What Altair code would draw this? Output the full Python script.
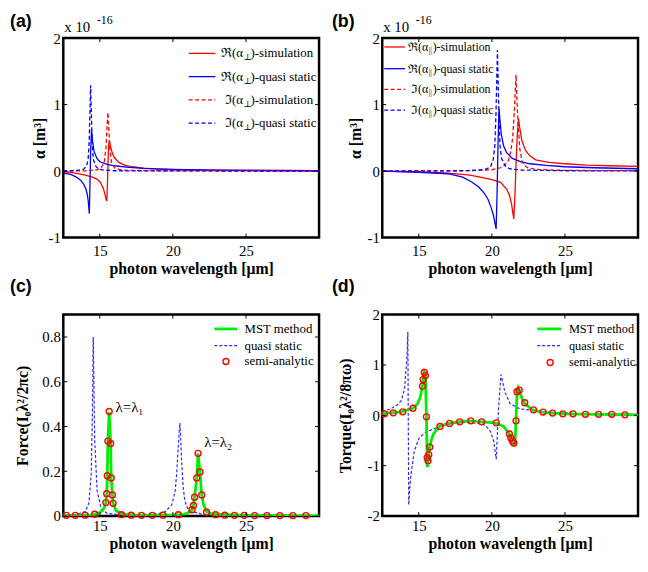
import altair as alt
import pandas as pd

SERIF = "'Liberation Serif', 'Times New Roman', Times, 'DejaVu Serif', serif"
SANS = "'Liberation Sans', Arial, Helvetica, sans-serif"
RED = "#ff0000"
BLUE = "#0000ff"
BLUE2 = "#2a2aff"
GREEN = "#00ee00"
DASH = [4, 2.5]

XDOM = [12.5, 30]
XTICKS = [15, 20, 25]

# ---------------- panel (a) : alpha_perp ----------------
a_re_sim_x = [12.5, 13.0, 13.5, 14.0, 14.5, 14.8, 15.0, 15.15, 15.25, 15.35, 15.42, 15.48, 15.52, 15.56, 15.60, 15.65, 15.72, 15.85, 16.0, 16.3, 16.7, 17.2, 18.0, 19.0, 20.0, 22.0, 25.0, 30.0]
a_re_sim_y = [-0.01, -0.02, -0.04, -0.06, -0.09, -0.12, -0.16, -0.22, -0.27, -0.35, -0.42, -0.45, -0.2, 0.12, 0.38, 0.46, 0.38, 0.27, 0.2, 0.13, 0.09, 0.065, 0.045, 0.03, 0.022, 0.015, 0.01, 0.005]
a_re_qs_x = [12.5, 13.0, 13.4, 13.7, 13.9, 14.05, 14.15, 14.22, 14.28, 14.32, 14.37, 14.43, 14.5, 14.6, 14.8, 15.0, 15.5, 16.0, 17.0, 18.0, 20.0, 23.0, 26.0, 30.0]
a_re_qs_y = [-0.03, -0.05, -0.09, -0.14, -0.2, -0.27, -0.36, -0.48, -0.64, -0.25, 0.3, 0.62, 0.45, 0.3, 0.19, 0.14, 0.1, 0.08, 0.055, 0.04, 0.025, 0.015, 0.01, 0.007]
a_im_sim_x = [12.5, 14.0, 14.8, 15.1, 15.3, 15.42, 15.5, 15.55, 15.6, 15.68, 15.8, 16.0, 16.4, 17.0, 20.0, 30.0]
a_im_sim_y = [0.0, 0.005, 0.02, 0.05, 0.13, 0.35, 0.7, 0.88, 0.7, 0.35, 0.13, 0.05, 0.02, 0.01, 0.003, 0.0]
a_im_qs_x = [12.5, 13.5, 13.9, 14.1, 14.2, 14.27, 14.33, 14.37, 14.41, 14.47, 14.55, 14.7, 14.9, 15.3, 16.0, 20.0, 30.0]
a_im_qs_y = [0.0, 0.01, 0.03, 0.08, 0.18, 0.45, 0.95, 1.29, 0.95, 0.45, 0.18, 0.08, 0.03, 0.015, 0.005, 0.002, 0.0]
a_yticks = [-1, 0, 1, 2]

# ---------------- panel (b) : alpha_parallel ----------------
b_re_sim_x = [12.5, 15.0, 17.0, 18.5, 19.2, 20.0, 20.6, 21.0, 21.2, 21.35, 21.45, 21.5, 21.58, 21.66, 21.74, 21.82, 21.9, 22.05, 22.3, 22.6, 23.0, 23.9, 25.0, 26.5, 28.0, 30.0]
b_re_sim_y = [0.0, -0.01, -0.03, -0.06, -0.09, -0.13, -0.17, -0.27, -0.36, -0.5, -0.65, -0.72, -0.35, 0.15, 0.55, 0.79, 0.66, 0.46, 0.31, 0.23, 0.17, 0.13, 0.11, 0.09, 0.08, 0.07]
b_re_qs_x = [12.5, 15.0, 17.0, 18.0, 18.6, 19.1, 19.47, 19.75, 19.95, 20.1, 20.2, 20.29, 20.36, 20.42, 20.49, 20.56, 20.65, 20.8, 21.0, 21.4, 22.0, 22.6, 23.7, 25.0, 27.0, 30.0]
b_re_qs_y = [0.0, -0.02, -0.04, -0.09, -0.16, -0.24, -0.33, -0.43, -0.55, -0.66, -0.77, -0.87, -0.3, 0.4, 0.94, 0.75, 0.55, 0.38, 0.28, 0.19, 0.14, 0.11, 0.085, 0.065, 0.05, 0.035]
b_im_sim_x = [12.5, 18.0, 20.0, 20.6, 20.9, 21.13, 21.3, 21.42, 21.55, 21.65, 21.75, 21.9, 22.05, 22.2, 22.5, 23.0, 25.0, 30.0]
b_im_sim_y = [0.0, 0.005, 0.02, 0.05, 0.09, 0.16, 0.3, 0.5, 0.95, 1.45, 0.9, 0.35, 0.16, 0.09, 0.045, 0.025, 0.01, 0.005]
b_im_qs_x = [12.5, 17.0, 19.0, 19.6, 19.9, 20.1, 20.2, 20.28, 20.38, 20.48, 20.56, 20.65, 20.9, 21.2, 22.0, 25.0, 30.0]
b_im_qs_y = [0.0, 0.003, 0.01, 0.03, 0.06, 0.18, 0.38, 0.85, 1.82, 0.85, 0.38, 0.2, 0.08, 0.035, 0.015, 0.005, 0.002]
b_yticks = [-1, 0, 1, 2]

# ---------------- panel (c) : force ----------------
c_mst_x = [12.5, 14.5, 15.0, 15.2, 15.35, 15.41, 15.47, 15.51, 15.55, 15.64, 15.74, 15.78, 15.86, 15.91, 16.1, 16.5, 17.5, 20.0, 20.7, 21.0, 21.3, 21.41, 21.48, 21.63, 21.72, 21.85, 21.97, 22.1, 22.3, 22.7, 25.0, 30.0]
c_mst_y = [0.0, 0.005, 0.015, 0.025, 0.045, 0.06, 0.1, 0.18, 0.335, 0.465, 0.324, 0.17, 0.094, 0.057, 0.025, 0.01, 0.004, 0.004, 0.008, 0.013, 0.028, 0.047, 0.084, 0.17, 0.28, 0.197, 0.094, 0.05, 0.02, 0.008, 0.003, 0.001]
c_semi_x = [12.7, 13.32, 13.99, 14.65, 15.41, 15.47, 15.51, 15.55, 15.64, 15.74, 15.78, 15.86, 15.91, 16.48, 17.15, 17.85, 18.59, 19.32, 20.37, 21.3, 21.41, 21.48, 21.63, 21.72, 21.85, 21.97, 22.3, 22.92, 23.55, 24.21, 24.88, 25.59, 26.43, 27.32, 28.21, 29.1]
c_semi_y = [0.003, 0.003, 0.004, 0.008, 0.06, 0.1, 0.18, 0.335, 0.467, 0.324, 0.17, 0.094, 0.057, 0.006, 0.004, 0.003, 0.003, 0.004, 0.006, 0.028, 0.047, 0.084, 0.17, 0.28, 0.197, 0.094, 0.017, 0.006, 0.004, 0.003, 0.003, 0.002, 0.002, 0.002, 0.002, 0.002]
c_qs_x = [12.5, 13.0, 13.5, 14.0, 14.25, 14.41, 14.49, 14.55, 14.61, 14.65, 14.81, 15.1, 15.5, 16.5, 18.0, 19.0, 19.48, 19.92, 20.15, 20.26, 20.4, 20.48, 20.53, 20.59, 20.7, 20.81, 21.0, 21.3, 22.0, 25.0, 30.0]
c_qs_y = [0.003, 0.005, 0.008, 0.02, 0.057, 0.19, 0.45, 0.8, 0.5, 0.34, 0.115, 0.03, 0.012, 0.005, 0.005, 0.01, 0.02, 0.05, 0.11, 0.19, 0.35, 0.416, 0.35, 0.25, 0.13, 0.07, 0.035, 0.02, 0.008, 0.003, 0.001]
c_note_x = [16.08, 22.15]
c_note_y = [0.465, 0.308]
c_note_t = ["λ=λ₁", "λ=λ₂"]
c_yticks = [0, 0.2, 0.4, 0.6, 0.8]

# ---------------- panel (d) : torque ----------------
d_qs_x = [12.5, 13.0, 13.5, 13.8, 14.02, 14.18, 14.25, 14.31, 14.38, 14.47, 14.69, 15.02, 15.5, 16.35, 17.2, 18.1, 19.2, 19.6, 19.9, 20.13, 20.3, 20.45, 20.62, 20.9, 21.25, 21.9, 23.7, 26.0, 30.0]
d_qs_y = [0.08, 0.12, 0.2, 0.29, 0.52, 1.1, 1.66, -1.78, -1.45, -1.17, -0.71, -0.45, -0.33, -0.23, -0.17, -0.14, -0.16, -0.21, -0.32, -0.52, -0.87, 0.1, 0.81, 0.45, 0.23, 0.13, 0.065, 0.035, 0.02]
d_mst_x = [12.5, 13.0, 13.8, 14.6, 14.9, 15.1, 15.25, 15.3, 15.38, 15.45, 15.52, 15.58, 15.63, 15.68, 15.75, 15.85, 16.0, 16.4, 17.0, 17.7, 18.5, 19.3, 20.2, 20.8, 21.2, 21.3, 21.4, 21.5, 21.58, 21.65, 21.72, 21.8, 21.87, 22.0, 22.2, 22.75, 23.4, 24.1, 25.0, 27.0, 30.0]
d_mst_y = [0.03, 0.05, 0.07, 0.14, 0.22, 0.36, 0.58, 0.71, 0.85, 0.8, -0.03, -1.03, -0.9, -0.78, -0.63, -0.5, -0.37, -0.22, -0.16, -0.13, -0.11, -0.13, -0.15, -0.22, -0.37, -0.45, -0.51, -0.55, -0.57, -0.11, 0.47, 0.55, 0.5, 0.38, 0.25, 0.11, 0.065, 0.045, 0.03, 0.02, 0.01]
d_semi_x = [12.65, 13.25, 13.9, 14.6, 15.25, 15.3, 15.38, 15.45, 15.52, 15.57, 15.63, 15.68, 15.75, 16.45, 17.1, 17.8, 18.55, 19.3, 20.3, 21.2, 21.3, 21.4, 21.5, 21.65, 21.72, 21.87, 22.25, 22.85, 23.5, 24.15, 24.85, 25.55, 26.4, 27.3, 28.2, 29.1]
d_semi_y = [0.03, 0.05, 0.07, 0.14, 0.58, 0.71, 0.85, 0.79, -0.03, -0.84, -0.9, -0.78, -0.63, -0.22, -0.16, -0.13, -0.11, -0.13, -0.15, -0.37, -0.45, -0.51, -0.55, -0.11, 0.47, 0.5, 0.25, 0.11, 0.065, 0.045, 0.03, 0.03, 0.02, 0.02, 0.02, 0.01]
d_yticks = [-2, -1, 0, 1, 2]

# ---------------- layout ----------------
W = 259
H_TOP = 202
H_BOT = 204
ONE = pd.DataFrame({"k": [0]})


def xenc(title_y, lpad):
    return alt.X("x:Q", scale=alt.Scale(domain=XDOM, nice=False, zero=False),
                 axis=alt.Axis(values=XTICKS, title="photon wavelength [μm]",
                               titleFont=SERIF, titleFontSize=16, titleFontWeight="bold",
                               titleX=W / 2, titleY=title_y, titleAlign="center", titleBaseline="middle",
                               labelFont=SERIF, labelFontSize=15, labelPadding=lpad,
                               labelColor="black", titleColor="black",
                               ticks=False, tickSize=0, domain=False, grid=False,
                               labelExpr="datum.value + ''"))


def yenc(dom, vals, title, tx, h):
    return alt.Y("y:Q", scale=alt.Scale(domain=dom, nice=False, zero=False),
                 axis=alt.Axis(values=vals, title=title,
                               titleFont=SERIF, titleFontSize=16, titleFontWeight="bold",
                               titleX=tx, titleY=h / 2, titleAngle=270, titleAlign="center",
                               titleBaseline="middle",
                               labelFont=SERIF, labelFontSize=15, labelPadding=3,
                               labelColor="black", titleColor="black",
                               ticks=False, tickSize=0, domain=False, grid=False,
                               labelExpr="datum.value + ''"))


def line(xs, ys, color, xe, ye, dash=None, width=1.3):
    df = pd.DataFrame({"x": xs, "y": ys, "i": list(range(len(xs)))})
    kw = dict(color=color, strokeWidth=width, clip=True)
    if dash:
        kw["strokeDash"] = dash
    return alt.Chart(df).mark_line(**kw).encode(x=xe, y=ye, order="i:Q")


def circles(xs, ys, xe, ye):
    df = pd.DataFrame({"x": xs, "y": ys})
    return alt.Chart(df).mark_point(shape="circle", filled=False, color=RED, size=36,
                                    strokeWidth=1.4, opacity=1).encode(x=xe, y=ye)


def frame_ticks(xe, ye, yvals, h):
    """small inward ticks on all four sides of the box (MATLAB style)"""
    dx = pd.DataFrame({"x": XTICKS})
    dy = pd.DataFrame({"y": yvals})
    k = dict(color="black", strokeWidth=1)
    return [
        alt.Chart(dx).mark_rule(**k).encode(x=xe, y=alt.value(h), y2=alt.value(h - 4)),
        alt.Chart(dx).mark_rule(**k).encode(x=xe, y=alt.value(0), y2=alt.value(4)),
        alt.Chart(dy).mark_rule(**k).encode(y=ye, x=alt.value(0), x2=alt.value(4)),
        alt.Chart(dy).mark_rule(**k).encode(y=ye, x=alt.value(W - 1), x2=alt.value(W - 4)),
    ]


def txt(s, px, py, size, font=SERIF, weight="normal", align="left", baseline="middle"):
    return alt.Chart(ONE).mark_text(text=s, font=font, fontSize=size, fontWeight=weight,
                                    align=align, baseline=baseline, color="black").encode(
        x=alt.value(px), y=alt.value(py))


def sample(x1, x2, py, color, dash=None, width=1.3):
    kw = dict(color=color, strokeWidth=width)
    if dash:
        kw["strokeDash"] = dash
    return alt.Chart(ONE).mark_rule(**kw).encode(x=alt.value(x1), x2=alt.value(x2), y=alt.value(py))


def sample_circle(px, py):
    return alt.Chart(ONE).mark_point(shape="circle", filled=False, color=RED, size=36,
                                     strokeWidth=1.4, opacity=1).encode(x=alt.value(px), y=alt.value(py))


def alpha_legend(x1, x2, xa, rows, sub, size, subsize, ws, subdy):
    out = []
    styles = [(RED, None), (BLUE, None), (RED, DASH), (BLUE, DASH)]
    pre = ["ℜ(α", "ℜ(α", "ℑ(α", "ℑ(α"]
    suf = [")-simulation", ")-quasi static", ")-simulation", ")-quasi static"]
    for (c, d), p, s, r in zip(styles, pre, suf, rows):
        out.append(sample(x1, x2, r, c, d))
        out.append(txt(p, xa, r, size, align="right"))
        out.append(txt(sub, xa + 0.5, r + subdy, subsize))
        out.append(txt(s, xa + ws, r, size))
    return out


def exp_label():
    return [txt("x 10", 1, -6, 15, baseline="alphabetic"),
            txt("-16", 34, -14.5, 12, baseline="alphabetic")]


def panel_label(s, px, py):
    return txt(s, px, py, 18, font=SANS, weight="bold", baseline="top")


def force_legend(x1, x2, xc, xt, rows, size):
    return [sample(x1, x2, rows[0], GREEN, None, 2.8),
            txt("MST method", xt, rows[0], size),
            sample(x1, x2, rows[1], BLUE2, [3, 2], 1.2),
            txt("quasi static", xt, rows[1], size),
            sample_circle(xc, rows[2]),
            txt("semi-analytic", xt, rows[2], size)]


# (a)
xa_ = xenc(31, 6)
ya = yenc([-1, 2], a_yticks, "α [m³]", -24, H_TOP)
pa = alt.layer(
    line(a_re_sim_x, a_re_sim_y, RED, xa_, ya),
    line(a_re_qs_x, a_re_qs_y, BLUE, xa_, ya),
    line(a_im_sim_x, a_im_sim_y, RED, xa_, ya, DASH),
    line(a_im_qs_x, a_im_qs_y, BLUE, xa_, ya, DASH),
    *frame_ticks(xa_, ya, a_yticks, H_TOP),
    *alpha_legend(127, 154, 182, [15.5, 39, 62.5, 86], "⊥", 13, 9, 7.5, 4),
    *exp_label(),
    panel_label("(a)", -54, -25),
).properties(width=W, height=H_TOP)

# (b)
yb = yenc([-1, 2], b_yticks, "α [m³]", -27, H_TOP)
pb = alt.layer(
    line(b_re_sim_x, b_re_sim_y, RED, xa_, yb),
    line(b_re_qs_x, b_re_qs_y, BLUE, xa_, yb),
    line(b_im_sim_x, b_im_sim_y, RED, xa_, yb, DASH),
    line(b_im_qs_x, b_im_qs_y, BLUE, xa_, yb, DASH),
    *frame_ticks(xa_, yb, b_yticks, H_TOP),
    *alpha_legend(2, 23, 46.5, [9, 31, 52, 73], "||", 12, 8, 4.5, 4),
    *exp_label(),
    panel_label("(b)", -51, -25),
).properties(width=W, height=H_TOP)

# (c)
xc_ = xenc(28, 3)
yc = yenc([0, 0.9], c_yticks, "Force(I₀λ²/2πc)", -41, H_BOT)
note_df = pd.DataFrame({"x": c_note_x, "y": c_note_y, "t": c_note_t})
pc = alt.layer(
    line(c_qs_x, c_qs_y, BLUE2, xc_, yc, [3, 2], 1.2),
    line(c_mst_x, c_mst_y, GREEN, xc_, yc, None, 2.8),
    circles(c_semi_x, c_semi_y, xc_, yc),
    *frame_ticks(xc_, yc, c_yticks, H_BOT),
    alt.Chart(note_df).mark_text(font=SERIF, fontSize=15, align="left", baseline="alphabetic",
                                 color="black").encode(x=xc_, y=yc, text="t:N"),
    *force_legend(153, 176, 164.7, 183.5, [14.5, 31.5, 47.5], 13),
    panel_label("(c)", -54, -37),
).properties(width=W, height=H_BOT)

# (d)
yd = yenc([-2, 2], d_yticks, "Torque(I₀λ²/8πω)", -37, H_BOT)
pd_ = alt.layer(
    line(d_qs_x, d_qs_y, BLUE2, xc_, yd, [3, 2], 1.2),
    line(d_mst_x, d_mst_y, GREEN, xc_, yd, None, 2.8),
    circles(d_semi_x, d_semi_y, xc_, yd),
    *frame_ticks(xc_, yd, d_yticks, H_BOT),
    *force_legend(157, 181, 170, 189, [14.5, 31.5, 48.5], 12.5),
    panel_label("(d)", -51, -37),
).properties(width=W, height=H_BOT)

chart = alt.concat(pa, pb, pc, pd_, columns=2,
                   spacing={"row": 78, "column": 64}, bounds="flush",
                   padding=0).configure_view(stroke="black", strokeWidth=2.5)

chart.save("out.html", embed_options={"renderer": "svg", "actions": False})
